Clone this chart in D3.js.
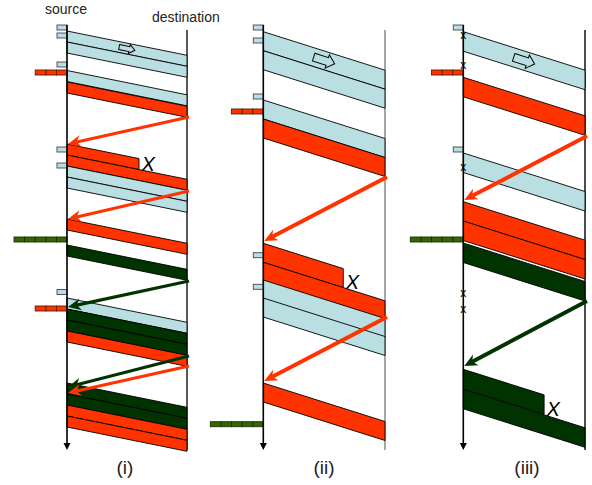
<!DOCTYPE html>
<html><head><meta charset="utf-8">
<script src="https://cdn.jsdelivr.net/npm/d3@7"></script>
<style>body{margin:0;background:#fff}svg{display:block;font-family:"Liberation Sans",Arial,sans-serif}</style>
</head><body>
<svg id="c" width="592" height="485"></svg>
<script>
// ---------- data ----------
const panelLabels = ["(i)", "(ii)", "(iii)"];
const packetDuration = [11, 19, 19.5];   // time units per packet
const linkDelay = [24.3, 38.5, 38.5];    // propagation delay

// packets: send time at source, traffic class, fraction of link crossed (lost when < 1)
const packetsI = [
  {t:31,k:"bulk"},{t:42,k:"bulk"},{t:70.5,k:"bulk"},{t:82,k:"flowA"},
  {t:144,k:"flowA",cut:0.6},{t:155,k:"flowA"},{t:166,k:"bulk"},{t:177,k:"bulk"},
  {t:219,k:"flowA"},{t:245,k:"flowB"},{t:298,k:"bulk"},{t:309,k:"flowB"},
  {t:320,k:"flowB"},{t:331,k:"flowA"},{t:383,k:"flowB"},{t:394,k:"flowB"},
  {t:405,k:"flowA"},{t:416,k:"flowA"}
];
const packetsII = [
  {t:31.7,k:"bulk"},{t:50.7,k:"bulk"},{t:100,k:"bulk"},{t:119,k:"flowA"},
  {t:243.3,k:"flowA",cut:0.657},{t:262.3,k:"flowA"},{t:280,k:"bulk"},{t:298,k:"bulk"},
  {t:383,k:"flowA"}
];
const packetsIII = [
  {t:31.7,k:"bulk"},{t:77.3,k:"flowA"},{t:153,k:"bulk"},{t:201.7,k:"flowA"},
  {t:221,k:"flowA"},{t:243,k:"flowB"},{t:369.3,k:"flowB",cut:0.664},{t:389.3,k:"flowB"}
];

// acknowledgements: time leaving destination, time reaching source
const acksI = [
  {from:117,to:144,k:"flowA"},{from:191,to:219,k:"flowA"},{from:281,to:307,k:"flowB"},
  {from:356,to:387,k:"flowB"},{from:366,to:393,k:"flowA"}
];
const acksII = [{from:177,to:241,k:"flowA"},{from:317,to:381,k:"flowA"}];
const acksIII = [{from:136,to:200,k:"flowA"},{from:301,to:366,k:"flowB"}];

// queue markers at the source: time, class, number of slots
const markersI = [
  {t:25,k:"bulk",n:1},{t:33,k:"bulk",n:1},{t:62,k:"bulk",n:1},{t:70,k:"flowA",n:3},
  {t:147,k:"bulk",n:1},{t:163,k:"bulk",n:1},{t:237,k:"flowB",n:5},
  {t:289.5,k:"bulk",n:1},{t:306,k:"flowA",n:3}
];
const markersII = [
  {t:25,k:"bulk",n:1},{t:38,k:"bulk",n:1},{t:94,k:"bulk",n:1},{t:109,k:"flowA",n:3},
  {t:252.7,k:"bulk",n:1},{t:284.3,k:"bulk",n:1},{t:421.7,k:"flowB",n:5}
];
const markersIII = [
  {t:25,k:"bulk",n:1},{t:70,k:"flowA",n:3},{t:147,k:"bulk",n:1},{t:237,k:"flowB",n:5}
];
// small drop marks on the source axis of panel (iii)
const dropsIII = [35, 65, 167, 293, 309];

const packets = [packetsI, packetsII, packetsIII];
const acks = [acksI, acksII, acksIII];
const markers = [markersI, markersII, markersIII];
const drops = [[], [], dropsIII];

// ---------- styles / layout ----------
const fillColor = {bulk:"#BADFE3", flowA:"#FF3300", flowB:"#003300"};
const markerColor = {bulk:"#BADFE3", flowA:"#FF3300", flowB:"#336600"};
const markerStroke = {bulk:"#445", flowA:"#552200", flowB:"#1a3300"};
const layout = [
  {src:67, dst:187, dstColor:"#222", label:125, ackW:3.2, icon:[16,9,5]},
  {src:263.3, dst:385, dstColor:"#888", label:324, ackW:4, icon:[22,14,8]},
  {src:463.3, dst:585, dstColor:"#111", label:527, ackW:4, icon:[22,14,8]}
];

const svg = d3.select("#c");
const y = d3.scaleLinear().domain([0, 485]).range([0, 485]);

svg.append("text").attr("x", 66).attr("y", y(14)).attr("text-anchor","middle")
  .attr("font-size", 14).attr("fill","#222").text("source");
svg.append("text").attr("x", 152).attr("y", y(22))
  .attr("font-size", 14).attr("fill","#222").text("destination");

layout.forEach((L, i) => {
  const x = d3.scaleLinear().domain([0, 1]).range([L.src, L.dst]);
  const dur = packetDuration[i], dl = linkDelay[i];
  const g = svg.append("g");

  // destination line
  g.append("line").attr("x1", x(1)).attr("x2", x(1)).attr("y1", y(30)).attr("y2", y(450))
    .attr("stroke", L.dstColor).attr("stroke-width", 1.5);

  // packets
  g.selectAll("path.pk").data(packets[i]).join("path").attr("class","pk")
    .attr("d", p => {
      const f = p.cut ?? 1;
      return d3.line()([[x(0), y(p.t)], [x(f), y(p.t + dl * f)], [x(f), y(p.t + dl * f + dur)], [x(0), y(p.t + dur)]]) + "Z";
    })
    .attr("fill", p => fillColor[p.k]).attr("stroke", "#000").attr("stroke-width", 0.9)
    .attr("stroke-linejoin","miter");

  // lost-packet X
  g.selectAll("text.lost").data(packets[i].filter(p => p.cut)).join("text").attr("class","lost")
    .attr("x", p => x(p.cut) + 2.5).attr("y", p => y(p.t + dl * p.cut + dur) + 1.5)
    .attr("font-size", 20).attr("font-style","italic").attr("fill","#000").text("X");

  // direction icon inside first packet
  const p0 = packets[i][0];
  const cx = x(0.5), cy = y(p0.t + dl * 0.5 + dur / 2);
  const ang = Math.atan2(y(dl) - y(0), x(1) - x(0)) * 180 / Math.PI;
  const [len, hh, bh] = L.icon, hl = len * 0.35;
  const iconPts = [[-len/2,-bh/2],[len/2-hl,-bh/2],[len/2-hl,-hh/2],[len/2,0],[len/2-hl,hh/2],[len/2-hl,bh/2],[-len/2,bh/2]];
  g.append("path").attr("d", d3.line()(iconPts) + "Z")
    .attr("transform", `translate(${cx},${cy}) rotate(${ang})`)
    .attr("fill", fillColor.bulk).attr("stroke","#000").attr("stroke-width",1);

  // acknowledgements
  acks[i].forEach(a => {
    const x1 = x(1) + 2, y1 = y(a.from), x2 = x(0) + 1, y2 = y(a.to);
    const an = Math.atan2(y2 - y1, x2 - x1), c = Math.cos(an), s = Math.sin(an);
    const hl2 = 13, hw = 6, notch = 9;
    const col = fillColor[a.k];
    g.append("line").attr("x1", x1).attr("y1", y1).attr("x2", x2 - notch * c).attr("y2", y2 - notch * s)
      .attr("stroke", col).attr("stroke-width", L.ackW);
    const bx = x2 - hl2 * c, by = y2 - hl2 * s, px = -s, py = c;
    g.append("path").attr("d", d3.line()([[x2, y2], [bx + px * hw, by + py * hw], [x2 - notch * c, y2 - notch * s], [bx - px * hw, by - py * hw]]) + "Z")
      .attr("fill", col);
  });

  // queue markers
  markers[i].forEach(m => {
    const w = m.n === 1 ? 10 : 10.6;
    for (let j = 0; j < m.n; j++) {
      g.append("rect").attr("x", x(0) - (j + 1) * w).attr("y", y(m.t)).attr("width", w).attr("height", y(m.t + 5) - y(m.t))
        .attr("fill", markerColor[m.k]).attr("stroke", markerStroke[m.k]).attr("stroke-width", 0.9);
    }
  });

  // source axis
  g.append("line").attr("x1", x(0)).attr("x2", x(0)).attr("y1", y(25)).attr("y2", y(444))
    .attr("stroke", "#000").attr("stroke-width", 1.6);
  g.append("path").attr("d", d3.line()([[x(0) - 3.5, y(443)], [x(0) + 3.5, y(443)], [x(0), y(450)]]) + "Z").attr("fill", "#000");

  // drop marks
  g.selectAll("text.drop").data(drops[i]).join("text").attr("class","drop")
    .attr("x", x(0)).attr("y", d => y(d) + 3.5).attr("text-anchor","middle")
    .attr("font-size", 12).attr("fill","#000").text("x");

  // panel label
  svg.append("text").attr("x", L.label).attr("y", y(474)).attr("text-anchor","middle")
    .attr("font-size", 19).attr("fill","#222").text(panelLabels[i]);
});
</script>
</body></html>
